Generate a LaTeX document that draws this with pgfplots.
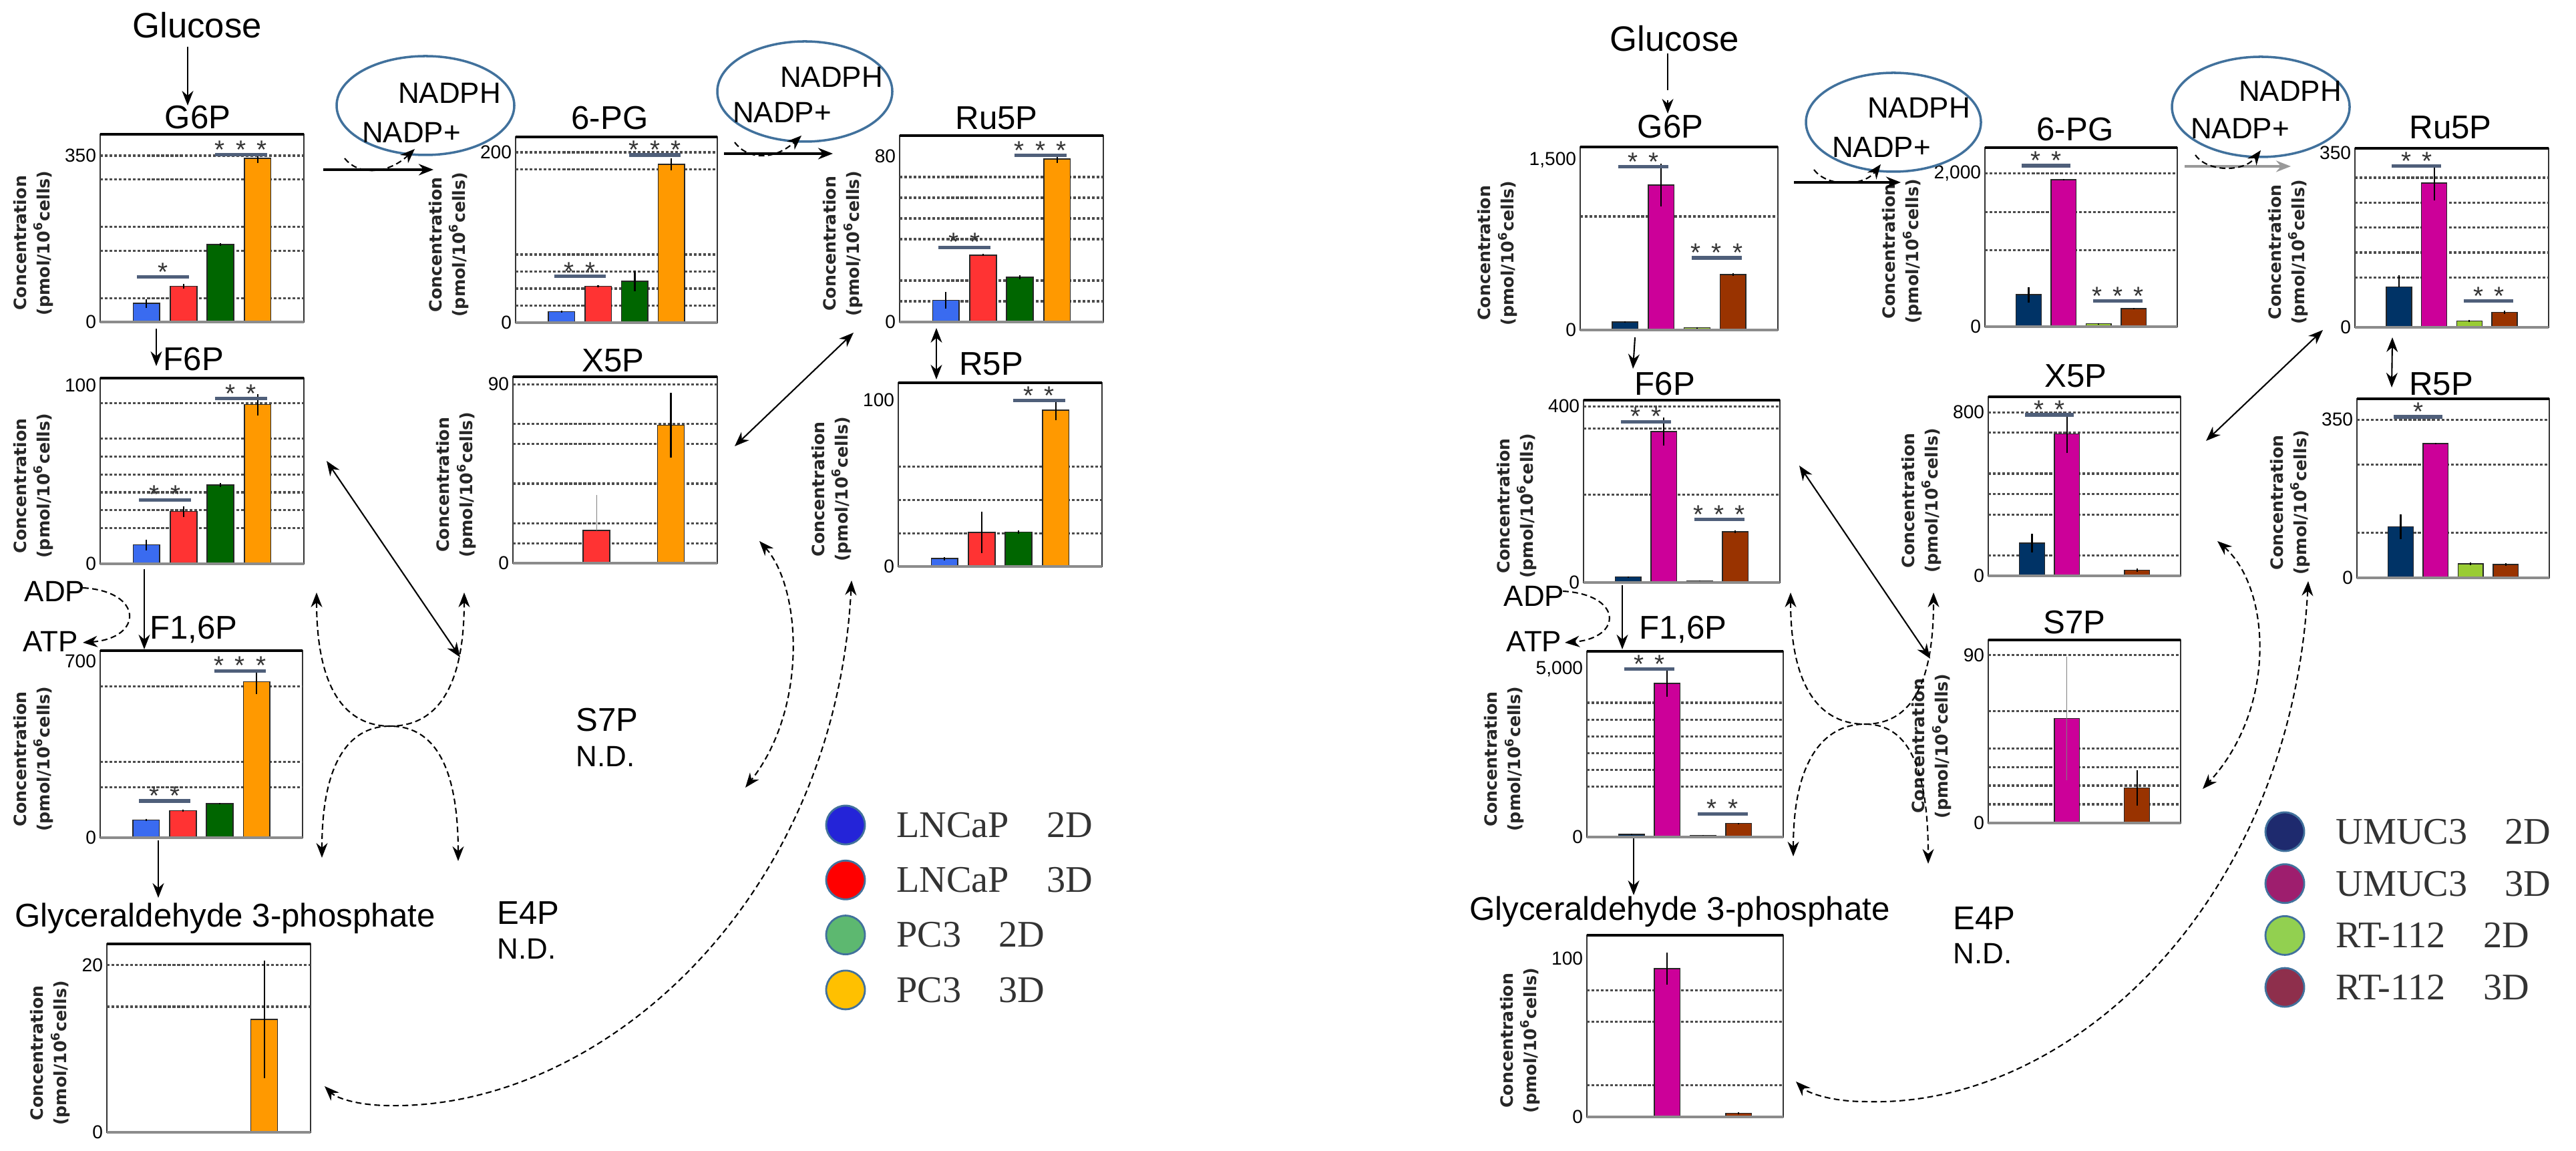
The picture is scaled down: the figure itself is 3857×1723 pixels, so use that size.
\documentclass[border=0pt]{standalone}
\usepackage{pgfplots}
\pgfplotsset{compat=1.18}
\usepackage{fontspec}
\setmainfont{Liberation Sans}
\newfontfamily\dvs{DejaVu Sans}
\newfontfamily\tms{Liberation Serif}
\usetikzlibrary{arrows.meta}

\definecolor{cB}{HTML}{3A6BF0}
\definecolor{cR}{HTML}{FF3333}
\definecolor{cG}{HTML}{006600}
\definecolor{cO}{HTML}{FF9900}
\definecolor{rN}{HTML}{003366}
\definecolor{rM}{HTML}{CC0099}
\definecolor{rL}{HTML}{99CC33}
\definecolor{rB}{HTML}{993300}
\definecolor{lB}{HTML}{2424D8}
\definecolor{lR}{HTML}{FF0000}
\definecolor{lG}{HTML}{5DB870}
\definecolor{lO}{HTML}{FFC000}
\definecolor{mN}{HTML}{1E2A6E}
\definecolor{mM}{HTML}{9E1E6E}
\definecolor{mL}{HTML}{92D050}
\definecolor{mB}{HTML}{8E2F4C}
\definecolor{sigc}{HTML}{4F5F7A}
\definecolor{ellc}{HTML}{41719C}

\newcommand\ttl{\fontsize{14}{16}\selectfont}
\newcommand\glc{\fontsize{15}{17}\selectfont}
\newcommand\nad{\fontsize{12.5}{14}\selectfont}
\newcommand\ndf{\fontsize{12.5}{14}\selectfont}
\newcommand\tickfont{\fontsize{8}{9}\selectfont}
\newcommand\labfont{\dvs\bfseries\fontsize{7.2}{10}\selectfont}
\newcommand\starfont{\fontsize{11}{11}\selectfont}
\newcommand\legfont{\tms\fontsize{16}{18}\selectfont}
\newcommand\st{\hspace{0.42em}}

\newcommand\sig[4]{\draw[sigc, line width=1.5pt] (axis cs:#1,#3) -- (axis cs:#2,#3) coordinate[midway] (sm);
  \node[anchor=base, yshift=-1.6pt, font=\starfont, text=black!80, inner sep=0pt] at (sm) {\smash{#4}};}

\pgfplotsset{
  panel/.style={
    scale only axis, anchor=north west, clip=false,
    xmin=-1.25, xmax=4.25, ymin=0,
    xtick=\empty, major tick length=0pt,
    axis line style={black!80, line width=0.5pt},
    yticklabel style={font=\tickfont, inner sep=1.5pt},
    ylabel={Concentration\\(pmol/10\textsuperscript{6}cells)},
    ylabel style={font=\labfont, align=center, at={(ticklabel cs:0.42)}, text=black!85},
    extra y tick labels={},
    extra y tick style={grid=major},
    major grid style={dash pattern=on 1.2pt off 0.8pt, black!70, line width=0.9pt},
    extra description/.code={
      \draw[line width=1.1pt] (0,1)--(1,1);
      \draw[line width=1.4pt, black!45] (0,0)--(1,0);
    },
  },
  bx/.style={ybar, bar width=0.72, bar shift=0pt, fill=#1, draw=black!85, line width=0.45pt,
    error bars/y dir=both, error bars/y explicit, error bars/error mark=none,
    error bars/error bar style={line width=0.6pt, black}},
}
\tikzset{
  arr/.style={-{Stealth[length=2.2mm,width=1.7mm]}, line width=0.6pt},
  darr/.style={{Stealth[length=2.2mm,width=1.7mm]}-{Stealth[length=2.2mm,width=1.7mm]}, line width=0.6pt},
  dsh/.style={dash pattern=on 2.5pt off 1.5pt},
}

\begin{document}
\begin{tikzpicture}[x=0.1mm, y=-0.1mm]
\path[use as bounding box] (0,0) rectangle (3857,1723);

%================ LEFT =================
% G6P
\begin{axis}[panel, at={(15mm,-20.1mm)}, width=30.5mm, height=28.1mm, ymax=395,
  ytick={0,350}, yticklabels={0,350}, extra y ticks={50,150,200,300,350}]
\addplot[bx=cB] coordinates {(0,39) +- (0,9)};
\addplot[bx=cR] coordinates {(1,75) +- (0,5)};
\addplot[bx=cG] coordinates {(2,163) +- (0,3)};
\addplot[bx=cO] coordinates {(3,344) +- (0,10)};
\sig{-0.25}{1.15}{95}{*}
\sig{1.85}{3.25}{352}{*\st*\st*}
\end{axis}
% 6-PG
\begin{axis}[panel, at={(77.2mm,-20.5mm)}, width=30.2mm, height=27.8mm, ymax=218,
  ytick={0,200}, yticklabels={0,200}, extra y ticks={20,40,60,80,180,200}]
\addplot[bx=cB] coordinates {(0,13) +- (0,1)};
\addplot[bx=cR] coordinates {(1,42.7) +- (0,1)};
\addplot[bx=cG] coordinates {(2,48.8) +- (0,12)};
\addplot[bx=cO] coordinates {(3,186) +- (0,7)};
\sig{-0.2}{1.2}{54.5}{*\st*}
\sig{1.85}{3.25}{196.8}{*\st*\st*}
\end{axis}
% Ru5P
\begin{axis}[panel, at={(134.7mm,-20.3mm)}, width=30.5mm, height=27.9mm, ymax=90,
  ytick={0,80}, yticklabels={0,80}, extra y ticks={10,20,40,50,60,70}]
\addplot[bx=cB] coordinates {(0,10.5) +- (0,4)};
\addplot[bx=cR] coordinates {(1,32.3) +- (0,0.5)};
\addplot[bx=cG] coordinates {(2,21.6) +- (0,1)};
\addplot[bx=cO] coordinates {(3,78.7) +- (0,2)};
\sig{-0.2}{1.2}{36}{*\st*}
\sig{1.85}{3.25}{80.5}{*\st*\st*}
\end{axis}
% F6P
\begin{axis}[panel, at={(15mm,-56.6mm)}, width=30.5mm, height=27.8mm, ymax=104,
  ytick={0,100}, yticklabels={0,100}, extra y ticks={20,30,40,50,60,70,90}]
\addplot[bx=cB] coordinates {(0,10.6) +- (0,3)};
\addplot[bx=cR] coordinates {(1,29.3) +- (0,3)};
\addplot[bx=cG] coordinates {(2,44.1) +- (0,1)};
\addplot[bx=cO] coordinates {(3,89.2) +- (0,6)};
\sig{-0.2}{1.2}{35.8}{*\st*}
\sig{1.85}{3.25}{92.5}{*\st*}
\end{axis}
% X5P
\begin{axis}[panel, at={(76.8mm,-56.4mm)}, width=30.6mm, height=27.9mm, ymax=93.8,
  ytick={0,90}, yticklabels={0,90}, extra y ticks={10,20,40,60,70,90}]
\addplot[bx=cR, error bars/y dir=plus, error bars/error bar style={line width=0.3pt, black!50}] coordinates {(1,16.4) +- (0,18)};
\addplot[bx=cO] coordinates {(3,69.4) +- (0,16.3)};
\end{axis}
% R5P
\begin{axis}[panel, at={(134.5mm,-57.3mm)}, width=30.5mm, height=27.5mm, ymax=110.4,
  ytick={0,100}, yticklabels={0,100}, extra y ticks={20,40,60}]
\addplot[bx=cB] coordinates {(0,4.7) +- (0,1)};
\addplot[bx=cR] coordinates {(1,20.5) +- (0,12.4)};
\addplot[bx=cG] coordinates {(2,20.7) +- (0,1)};
\addplot[bx=cO] coordinates {(3,94) +- (0,6)};
\sig{1.85}{3.25}{99.7}{*\st*}
\end{axis}
% F1,6P
\begin{axis}[panel, at={(15mm,-97.4mm)}, width=30.3mm, height=28mm, ymax=742,
  ytick={0,700}, yticklabels={0,700}, extra y ticks={200,300,600}]
\addplot[bx=cB] coordinates {(0,70) +- (0,5)};
\addplot[bx=cR] coordinates {(1,107) +- (0,5)};
\addplot[bx=cG] coordinates {(2,135) +- (0,3)};
\addplot[bx=cO] coordinates {(3,619) +- (0,50)};
\sig{-0.2}{1.2}{146}{*\st*}
\sig{1.85}{3.25}{662}{*\st*\st*}
\end{axis}
% G3P
\begin{axis}[panel, at={(16mm,-141.3mm)}, width=30.5mm, height=28.2mm, ymax=22.5,
  ytick={0,20}, yticklabels={0,20}, extra y ticks={15,20}]
\addplot[bx=cO] coordinates {(3,13.5) +- (0,7)};
\end{axis}

% left decorations
\node[font=\glc] at (295,38) {Glucose};
\draw[arr] (281,70) -- (281,158);
\node[font=\ttl] at (296,176) {G6P};
\node[font=\ttl] at (913,177) {6-PG};
\node[font=\ttl] at (1492,177) {Ru5P};
\node[font=\ttl] at (290,538) {F6P};
\node[font=\ttl] at (918,540) {X5P};
\node[font=\ttl] at (1484,545) {R5P};
\node[font=\ttl] at (290,942) {F1,6P};
\node[font=\ttl] at (337,1375) {Glyceraldehyde 3-phosphate};
\node[font=\ttl, anchor=west] at (850,1078) {S7P};
\node[font=\ndf, anchor=west] at (850,1132) {N.D.};
\node[font=\ttl, anchor=west] at (732,1367) {E4P};
\node[font=\ndf, anchor=west] at (732,1420) {N.D.};
\node[font=\nad] at (82,885) {ADP};
\node[font=\nad] at (76,960) {ATP};

\draw[ellc, line width=1pt] (637,158) ellipse [x radius=133, y radius=74];
\node[font=\nad] at (673,139) {NADPH};
\node[font=\nad] at (616,198) {NADP+};
\draw[ellc, line width=1pt] (1205,137) ellipse [x radius=131, y radius=75];
\node[font=\nad] at (1245,115) {NADPH};
\node[font=\nad] at (1171,168) {NADP+};

\draw[arr, line width=1.4pt] (484,254) -- (649,254);
\draw[arr, dsh] (516,237) .. controls (535,262) and (580,262) .. (621,223);
\draw[arr, line width=1.4pt] (1084,230) -- (1247,230);
\draw[arr, dsh] (1100,213) .. controls (1120,240) and (1160,240) .. (1200,203);
\draw[darr] (1278,498) -- (1100,668);
\draw[darr] (1402,491) -- (1402,568);
\draw[arr] (234,492) -- (234,548);
\draw[arr] (216,852) -- (216,972);
\draw[arr, dsh] (124,880) .. controls (215,885) and (215,955) .. (124,962);
\draw[arr] (237,1258) -- (237,1344);
\draw[darr] (489,690) -- (689,984);
\draw[darr, dsh] (474,887) .. controls (474,1050) and (530,1087) .. (584,1087) .. controls (640,1087) and (695,1050) .. (695,887);
\draw[darr, dsh] (482,1284) .. controls (482,1130) and (530,1087) .. (584,1087) .. controls (640,1087) and (686,1130) .. (686,1289);
\draw[darr, dsh] (1137,810) .. controls (1200,880) and (1210,1060) .. (1116,1179);
\draw[darr, dsh] (1275,869) .. controls (1250,1350) and (900,1660) .. (584,1655) .. controls (540,1655) and (505,1645) .. (486,1626);

% left legend
\foreach \c/\t [count=\i from 0] in {lB/{LNCaP\quad 2D}, lR/{LNCaP\quad 3D}, lG/{PC3\quad 2D}, lO/{PC3\quad 3D}}{
  \pgfmathsetmacro\yy{1235+82.3*\i}
  \fill[\c, draw=ellc, line width=0.8pt] (1266,\yy) circle [radius=29];
  \node[font=\legfont, anchor=west, text=black!80] at (1330,\yy) {\t};
}

%================ RIGHT =================
% G6P
\begin{axis}[panel, at={(236.6mm,-22mm)}, width=29.6mm, height=27.4mm, ymax=1612,
  ytick={0,1500}, yticklabels={0,{1,500}}, extra y ticks={1000}]
\addplot[bx=rN] coordinates {(0,71) +- (0,8)};
\addplot[bx=rM] coordinates {(1,1276) +- (0,188)};
\addplot[bx=rL] coordinates {(2,20) +- (0,3)};
\addplot[bx=rB] coordinates {(3,488) +- (0,10)};
\sig{-0.2}{1.2}{1439}{*\st*}
\sig{1.85}{3.25}{635}{*\st*\st*}
\end{axis}
% 6-PG
\begin{axis}[panel, at={(297.2mm,-22.1mm)}, width=28.8mm, height=26.8mm, ymax=2339,
  ytick={0,2000}, yticklabels={0,{2,000}}, extra y ticks={1000,1500,2000}]
\addplot[bx=rN] coordinates {(0,418) +- (0,100)};
\addplot[bx=rM] coordinates {(1,1921) +- (0,10)};
\addplot[bx=rL] coordinates {(2,39) +- (0,5)};
\addplot[bx=rB] coordinates {(3,236) +- (0,5)};
\sig{-0.2}{1.2}{2103}{*\st*}
\sig{1.85}{3.25}{333}{*\st*\st*}
\end{axis}
% Ru5P
\begin{axis}[panel, at={(352.6mm,-22.2mm)}, width=29mm, height=26.8mm, ymax=359,
  ytick={0,350}, yticklabels={0,350}, extra y ticks={100,150,200,250,300}]
\addplot[bx=rN, error bars/y dir=plus] coordinates {(0,81) +- (0,23)};
\addplot[bx=rM] coordinates {(1,289) +- (0,35)};
\addplot[bx=rL] coordinates {(2,12.5) +- (0,2)};
\addplot[bx=rB] coordinates {(3,30) +- (0,3)};
\sig{-0.2}{1.2}{323.6}{*\st*}
\sig{1.85}{3.25}{53}{*\st*}
\end{axis}
% F6P
\begin{axis}[panel, at={(237.1mm,-59.9mm)}, width=29.4mm, height=27.3mm, ymax=414,
  ytick={0,400}, yticklabels={0,400}, extra y ticks={200,350,400}]
\addplot[bx=rN] coordinates {(0,12.7) +- (0,1)};
\addplot[bx=rM] coordinates {(1,343) +- (0,32)};
\addplot[bx=rL] coordinates {(2,4) +- (0,1)};
\addplot[bx=rB] coordinates {(3,115) +- (0,3)};
\sig{-0.2}{1.2}{365}{*\st*}
\sig{1.85}{3.25}{143}{*\st*\st*}
\end{axis}
% X5P
\begin{axis}[panel, at={(297.7mm,-59.4mm)}, width=28.8mm, height=26.8mm, ymax=876,
  ytick={0,800}, yticklabels={0,800}, extra y ticks={100,300,400,500,700,800}]
\addplot[bx=rN] coordinates {(0,161) +- (0,45)};
\addplot[bx=rM] coordinates {(1,695) +- (0,95)};
\addplot[bx=rB] coordinates {(3,28) +- (0,7)};
\sig{-0.2}{1.2}{788}{*\st*}
\end{axis}
% R5P
\begin{axis}[panel, at={(352.9mm,-59.7mm)}, width=28.8mm, height=26.8mm, ymax=396,
  ytick={0,350}, yticklabels={0,350}, extra y ticks={100,250,350}]
\addplot[bx=rN] coordinates {(0,113) +- (0,27)};
\addplot[bx=rM] coordinates {(1,297) +- (0,2)};
\addplot[bx=rL] coordinates {(2,31) +- (0,3)};
\addplot[bx=rB] coordinates {(3,29.6) +- (0,3)};
\sig{-0.2}{1.2}{356}{*}
\end{axis}
% F1,6P
\begin{axis}[panel, at={(237.6mm,-97.5mm)}, width=29.4mm, height=27.8mm, ymax=5532,
  ytick={0,5000}, yticklabels={0,{5,000}}, extra y ticks={1500,2000,2500,3000,3500,4000}]
\addplot[bx=rN] coordinates {(0,85) +- (0,10)};
\addplot[bx=rM] coordinates {(1,4574) +- (0,400)};
\addplot[bx=rL] coordinates {(2,53) +- (0,5)};
\addplot[bx=rB] coordinates {(3,404) +- (0,20)};
\sig{-0.2}{1.2}{5000}{*\st*}
\sig{1.85}{3.25}{691}{*\st*}
\end{axis}
% S7P
\begin{axis}[panel, at={(297.7mm,-95.8mm)}, width=28.8mm, height=27.4mm, ymax=98,
  ytick={0,90}, yticklabels={0,90}, extra y ticks={10,20,30,40,60,90}]
\addplot[bx=rM, error bars/error bar style={line width=0.3pt, black!50}] coordinates {(1,55.9) +- (0,33)};
\addplot[bx=rB] coordinates {(3,18.8) +- (0,9.5)};
\end{axis}
% G3P
\begin{axis}[panel, at={(237.6mm,-140mm)}, width=29.4mm, height=27.2mm, ymax=114.7,
  ytick={0,100}, yticklabels={0,100}, extra y ticks={20,60,80}]
\addplot[bx=rM] coordinates {(1,93.7) +- (0,10)};
\addplot[bx=rB] coordinates {(3,2.3) +- (0,0.5)};
\end{axis}

% right decorations
\node[font=\glc] at (2507,58) {Glucose};
\draw[line width=0.6pt] (2497,80) -- (2497,135);
\draw[arr] (2497,150) -- (2497,170);
\node[font=\ttl] at (2501,190) {G6P};
\node[font=\ttl] at (3107,194) {6-PG};
\node[font=\ttl] at (3669,191) {Ru5P};
\node[font=\ttl] at (2493,575) {F6P};
\node[font=\ttl] at (3108,563) {X5P};
\node[font=\ttl] at (3655,575) {R5P};
\node[font=\ttl] at (2520,942) {F1,6P};
\node[font=\ttl] at (3106,932) {S7P};
\node[font=\ttl] at (2515,1365) {Glyceraldehyde 3-phosphate};
\node[font=\ttl, anchor=west] at (2912,1375) {E4P};
\node[font=\ndf, anchor=west] at (2912,1427) {N.D.};
\node[font=\nad] at (2297,892) {ADP};
\node[font=\nad] at (2297,960) {ATP};

\draw[ellc, line width=1pt] (2835,183) ellipse [x radius=131, y radius=74];
\node[font=\nad] at (2873,161) {NADPH};
\node[font=\nad] at (2817,220) {NADP+};
\draw[ellc, line width=1pt] (3385,160) ellipse [x radius=133, y radius=75];
\node[font=\nad] at (3429,136) {NADPH};
\node[font=\nad] at (3354,192) {NADP+};

\draw[arr, line width=1.4pt] (2686,273) -- (2846,273);
\draw[arr, dsh] (2716,254) .. controls (2735,280) and (2790,280) .. (2816,246);
\draw[arr, line width=1.2pt, black!40] (3271,249) -- (3430,249);
\draw[arr, dsh] (3287,232) .. controls (3305,258) and (3360,258) .. (3385,225);
\draw[darr] (3478,494) -- (3303,660);
\draw[darr] (3582,505) -- (3581,580);
\draw[arr] (2448,505) -- (2445,552);
\draw[arr] (2429,876) -- (2429,972);
\draw[arr, dsh] (2340,885) .. controls (2430,890) and (2430,955) .. (2343,962);
\draw[arr] (2446,1255) -- (2446,1340);
\draw[darr] (2694,697) -- (2890,986);
\draw[darr, dsh] (2681,887) .. controls (2681,1050) and (2740,1084) .. (2792,1084) .. controls (2845,1084) and (2895,1050) .. (2895,887);
\draw[darr, dsh] (2685,1282) .. controls (2685,1125) and (2740,1084) .. (2792,1084) .. controls (2845,1084) and (2887,1125) .. (2887,1293);
\draw[darr, dsh] (3320,810) .. controls (3400,880) and (3410,1060) .. (3298,1181);
\draw[darr, dsh] (3456,870) .. controls (3430,1350) and (3100,1660) .. (2792,1649) .. controls (2740,1649) and (2705,1635) .. (2689,1619);

% right legend
\foreach \c/\t [count=\i from 0] in {mN/{UMUC3\quad 2D}, mM/{UMUC3\quad 3D}, mL/{RT-112\quad 2D}, mB/{RT-112\quad 3D}}{
  \pgfmathsetmacro\yy{1245+77.7*\i}
  \fill[\c, draw=ellc, line width=0.8pt] (3421,\yy) circle [radius=29];
  \node[font=\legfont, anchor=west, text=black!80] at (3485,\yy) {\t};
}
\end{tikzpicture}
\end{document}
